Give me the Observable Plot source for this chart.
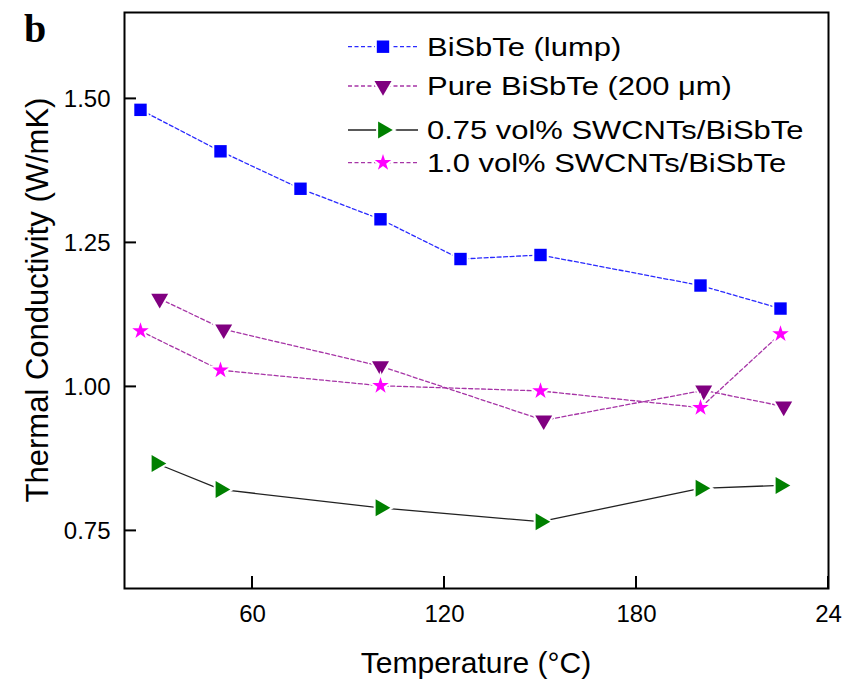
<!DOCTYPE html>
<html><head><meta charset="utf-8">
<script src="https://cdn.jsdelivr.net/npm/d3@7"></script>
<script src="https://cdn.jsdelivr.net/npm/@observablehq/plot@0.6"></script>
<style>
body{margin:0;background:#fff;}
#wrap{position:relative;width:852px;height:681px;overflow:hidden;background:#fff;}
#wrap svg{position:absolute;left:0;top:0;max-width:none !important;}
</style></head><body><div id="wrap"></div>
<script>
// ---- data ----
const seriesNames = ["BiSbTe (lump)", "Pure BiSbTe (200 μm)", "0.75 vol% SWCNTs/BiSbTe", "1.0 vol% SWCNTs/BiSbTe"];
const tempLump = [25, 50, 75, 100, 125, 150, 200, 225];
const kLump    = [1.481, 1.409, 1.344, 1.291, 1.222, 1.229, 1.176, 1.136];
const tempPure = [31, 51, 100, 151, 201, 226];
const kPure    = [1.153, 1.100, 1.036, 0.942, 0.994, 0.966];
const temp075  = [30, 50, 100, 150, 200, 225];
const k075     = [0.867, 0.822, 0.790, 0.766, 0.824, 0.829];
const temp10   = [25, 50, 100, 150, 200, 225];
const k10      = [1.097, 1.029, 1.002, 0.993, 0.964, 1.092];
const xTicks = [60, 120, 180, 240];
const xTickLabels = ["60", "120", "180", "24"];   // last label appears truncated in the source figure
const yTicks = [0.75, 1.00, 1.25, 1.50];
const xLabel = "Temperature (°C)";
const yLabel = "Thermal Conductivity (W/mK)";
const panelLabel = "b";

// ---- styles ----
const styles = [
  {fill: "#0000ff", line: "#2a2aff", dash: "4,2.5", symbol: "square",   r: 7.0, rotate: 0},
  {fill: "#800080", line: "#a634a6", dash: "4,2.5", symbol: "triangle", r: 6.3, rotate: 180},
  {fill: "#008000", line: "#222222", dash: null,    symbol: "triangle", r: 6.3, rotate: 90},
  {fill: "#ff00ff", line: "#a634a6", dash: "4,2.5", symbol: "star",     r: 5.2, rotate: 0}
];
const temps = [tempLump, tempPure, temp075, temp10];
const ks = [kLump, kPure, k075, k10];
const rows = seriesNames.map((name, i) => temps[i].map((t, j) => ({series: name, t, k: ks[i][j]})));

const W = 852, H = 681, ML = 124, MR = 24, MT = 12, MB = 93, TICK = 12;
const FONT = "'Liberation Sans', Arial, sans-serif";
const marks = [];
rows.forEach((data, i) => {
  const s = styles[i];
  marks.push(Plot.line(data, {x: "t", y: "k", stroke: s.line, strokeWidth: 1.3, strokeDasharray: s.dash || undefined}));
});
rows.forEach((data, i) => {
  const s = styles[i];
  marks.push(Plot.dot(data, {x: "t", y: "k", symbol: s.symbol, r: s.r, rotate: s.rotate, fill: s.fill,
    stroke: "white", strokeWidth: 4, paintOrder: "stroke"}));
});
marks.push(Plot.frame({stroke: "black", strokeWidth: 2}));
marks.push(Plot.axisY(yTicks, {tickSize: 0, tickPadding: 14, tickFormat: d3.format(".2f"), label: null}));
marks.push(Plot.axisX(xTicks, {tickSize: 0, tickPadding: 16, tickFormat: d => xTickLabels[xTicks.indexOf(d)], label: null}));

const chart = Plot.plot({
  width: W, height: H,
  marginLeft: ML, marginRight: MR, marginTop: MT, marginBottom: MB,
  x: {domain: [20, 240], label: null},
  y: {domain: [0.65, 1.65], label: null},
  style: {fontFamily: FONT, fontSize: "24px", color: "black", background: "white", overflow: "visible", maxWidth: "none"},
  marks
});
const wrap = document.getElementById("wrap");
wrap.appendChild(chart);

// ---- overlay: inward ticks (positioned by Plot's scales), titles, panel label, legend ----
const xs = chart.scale("x"), ys = chart.scale("y");
const ov = d3.select(wrap).append("svg").attr("width", W).attr("height", H)
  .style("font-family", FONT);
const x0 = xs.apply(xs.domain[0]), y0 = ys.apply(ys.domain[0]);
ov.append("g").selectAll("line").data(yTicks).join("line")
  .attr("x1", x0).attr("x2", x0 + TICK).attr("y1", d => ys.apply(d)).attr("y2", d => ys.apply(d))
  .attr("stroke", "black").attr("stroke-width", 2);
ov.append("g").selectAll("line").data(xTicks).join("line")
  .attr("x1", d => xs.apply(d)).attr("x2", d => xs.apply(d)).attr("y1", y0).attr("y2", y0 - TICK)
  .attr("stroke", "black").attr("stroke-width", 2);

ov.append("text").attr("x", 476).attr("y", 673).attr("text-anchor", "middle")
  .attr("font-size", 30).text(xLabel);
ov.append("text").attr("transform", "translate(48,300) rotate(-90)").attr("text-anchor", "middle")
  .attr("font-size", 31).text(yLabel);
ov.append("text").attr("x", 24).attr("y", 41.5).attr("font-family", "'Liberation Serif', 'Times New Roman', serif")
  .attr("font-weight", "bold").attr("font-size", 40).text(panelLabel);

const legendY = [46.7, 86, 130, 162.7];
const symMap = {square: d3.symbolSquare, triangle: d3.symbolTriangle, star: d3.symbolStar};
seriesNames.forEach((name, i) => {
  const s = styles[i];
  const y = legendY[i];
  ov.append("line").attr("x1", 348).attr("x2", 418).attr("y1", y).attr("y2", y)
    .attr("stroke", s.line).attr("stroke-width", 1.3).attr("stroke-dasharray", s.dash);
  ov.append("path").attr("d", d3.symbol(symMap[s.symbol], Math.PI * s.r * s.r)())
    .attr("transform", `translate(383,${y}) rotate(${s.rotate})`)
    .attr("fill", s.fill).attr("stroke", "white").attr("stroke-width", 4).attr("paint-order", "stroke");
  ov.append("text").attr("transform", `translate(427,${y + 9.2}) scale(1.19,1)`)
    .attr("font-size", 26).text(name);
});
</script></body></html>
